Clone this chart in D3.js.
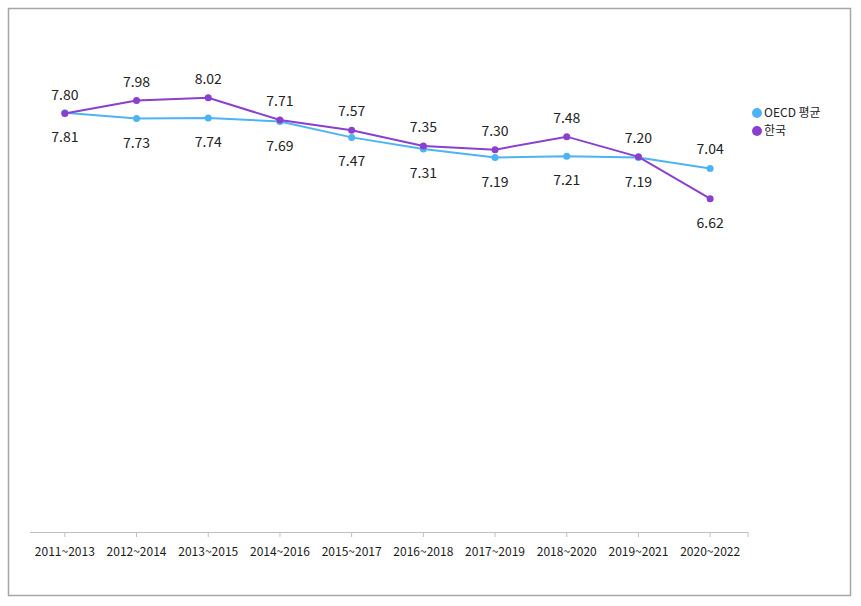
<!DOCTYPE html>
<html>
<head>
<meta charset="utf-8">
<script src="https://cdn.jsdelivr.net/npm/d3@7"></script>
<style>
body{margin:0;background:#fff;}
svg{display:block;font-family:"Malgun Gothic","Noto Sans CJK KR","Open Sans",sans-serif;}
</style>
</head>
<body>
<svg id="chart" width="861" height="606"></svg>
<script>
const categories = ["2011~2013","2012~2014","2013~2015","2014~2016","2015~2017","2016~2018","2017~2019","2018~2020","2019~2021","2020~2022"];
const oecdValues = [7.81,7.73,7.74,7.69,7.47,7.31,7.19,7.21,7.19,7.04];
const koreaValues = [7.80,7.98,8.02,7.71,7.57,7.35,7.30,7.48,7.20,6.62];
const seriesNames = ["OECD 평균","한국"];
const yDomain = [2, 9];

const svg = d3.select("#chart");
const oecdColor = "#4db4f4", koreaColor = "#8a3fcf";

svg.append("rect").attr("x",8.5).attr("y",8.5).attr("width",842).attr("height",587)
  .attr("fill","#fff").attr("stroke","#a6a6a6").attr("stroke-width",1.5);

const x = d3.scaleBand().domain(categories).range([29,746]);
const cx = c => x(c) + x.bandwidth()/2;
const y = d3.scaleLinear().domain(yDomain).range([532, 27]);

// axis
const ax = svg.append("g");
ax.append("line").attr("x1",30).attr("x2",748).attr("y1",532.5).attr("y2",532.5)
  .attr("stroke","#bfbfbf").attr("stroke-width",1);
ax.selectAll("line.tick").data(categories.map(cx).concat([748])).join("line")
  .attr("class","tick").attr("x1",d=>d).attr("x2",d=>d).attr("y1",532).attr("y2",537)
  .attr("stroke","#bfbfbf");
ax.selectAll("text").data(categories).join("text")
  .attr("x",d=>cx(d)).attr("y",556).attr("text-anchor","middle")
  .attr("font-size",12).attr("fill","#1a1a1a").text(d=>d);

const series = [
  {name:seriesNames[0], values:oecdValues, color:oecdColor, above:i=>i===9},
  {name:seriesNames[1], values:koreaValues, color:koreaColor, above:i=>i!==9}
];
const line = d3.line().x((d,i)=>cx(categories[i])).y(d=>y(d));

series.forEach(s=>{
  const g = svg.append("g");
  g.append("path").attr("d",line(s.values)).attr("fill","none")
    .attr("stroke",s.color).attr("stroke-width",2);
  g.selectAll("circle").data(s.values).join("circle")
    .attr("cx",(d,i)=>cx(categories[i])).attr("cy",d=>y(d)).attr("r",3.5)
    .attr("fill",s.color);
  g.selectAll("text").data(s.values).join("text")
    .attr("x",(d,i)=>cx(categories[i]))
    .attr("y",(d,i)=>s.above(i) ? y(d)-14 : y(d)+29)
    .attr("text-anchor","middle").attr("font-size",14).attr("fill","#222")
    .text(d=>d.toFixed(2));
});

// legend
const lg = svg.append("g");
series.forEach((s,i)=>{
  lg.append("circle").attr("cx",757).attr("cy",113+i*18).attr("r",5).attr("fill",s.color);
  lg.append("text").attr("x",764).attr("y",117+i*18).attr("font-size",12)
    .attr("fill","#222").text(s.name);
});
</script>
</body>
</html>
